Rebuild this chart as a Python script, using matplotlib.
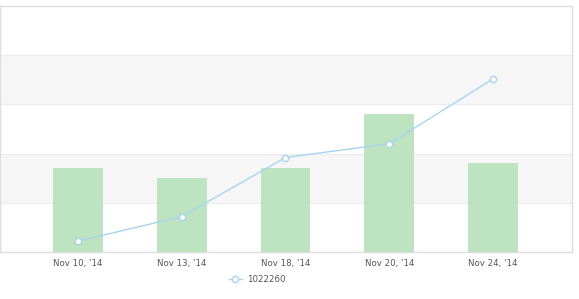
import matplotlib
matplotlib.use("Agg")
import matplotlib.pyplot as plt
import numpy as np
from matplotlib.lines import Line2D

dates = ["Nov 10, '14", "Nov 13, '14", "Nov 18, '14", "Nov 20, '14", "Nov 24, '14"]
bar_values = [85, 75, 85, 140, 90]
line_values = [11, 36, 96, 110, 176]
series_name = "1022260"

fig = plt.figure(figsize=(5.79, 2.99), dpi=100)
ax = fig.add_axes([0.0, 47 / 299, 572 / 579, 246 / 299])

x = np.arange(len(dates))

# alternating bands
for i, lo in enumerate(range(0, 250, 50)):
    if i % 2 == 1:
        ax.axhspan(lo, lo + 50, color="#f6f6f6", zorder=0, lw=0)
for y in [50, 100, 150, 200]:
    ax.axhline(y, color="#ececec", lw=0.8, zorder=0.5)

ax.bar(x, bar_values, width=0.48, color="#bde3c0", zorder=2)
ax.plot(x, line_values, color="#a8d4f0", lw=1, marker="o", markersize=4.5,
        markerfacecolor="white", markeredgecolor="#a8d4f0", markeredgewidth=1, zorder=3)

ax.set_xlim(-0.75, 4.76)
ax.set_ylim(0, 250)
ax.set_yticks([])
ax.set_xticks(x)
ax.set_xticklabels(dates, fontsize=6.2, color="#555555")
ax.tick_params(axis="x", length=0, pad=5)
for side in ["top", "right", "left", "bottom"]:
    ax.spines[side].set_color("#dddddd")
    ax.spines[side].set_linewidth(1)

handle = Line2D([0], [0], color="#a8d4f0", lw=1, marker="o", markersize=4.5,
                markerfacecolor="white", markeredgecolor="#a8d4f0")
fig.legend([handle], [series_name], loc="center", bbox_to_anchor=(257 / 579, 1 - 280 / 299),
           frameon=False, fontsize=6.2, labelcolor="#555555", handlelength=1.5, handletextpad=0.6)

fig.savefig("out.png", dpi=100)
